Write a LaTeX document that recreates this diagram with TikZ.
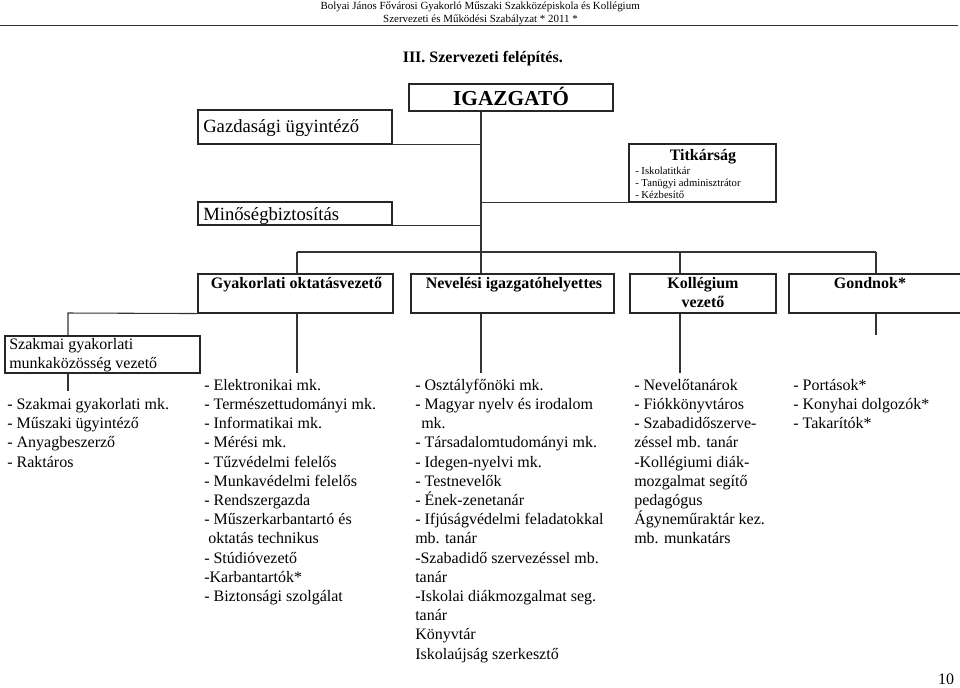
\documentclass[tikz,border=0pt]{standalone}
\usepackage{fontspec}
\setmainfont{Liberation Serif}
\begin{document}
\begin{tikzpicture}[x=0.75pt,y=-0.75pt,
  box/.style={draw=black!85, line width=0.8pt, inner sep=0pt, rectangle},
  conn/.style={draw=black!80, line width=0.8pt},
  hdr/.style={inner sep=0pt, font=\fontsize{8.2}{9.8}\selectfont},
  big/.style={inner sep=0pt, font=\fontsize{14}{16.8}\selectfont},
  bt/.style={inner sep=0pt, font=\fontsize{12}{14.4}\selectfont\bfseries},
  lst/.style={anchor=north west, inner sep=0pt, align=left, font=\fontsize{12}{14.4}\selectfont}]
\useasboundingbox (0,0) rectangle (960,687);

% header
\node[hdr, anchor=base east] (h1) at (640,9) {Bolyai János Fővárosi Gyakorló Műszaki Szakközépiskola és Kollégium};
\node[hdr, anchor=base east] (h2) at (578,22) {Szervezeti és Működési Szabályzat * 2011 *};
\coordinate (rl) at (0,25);
\coordinate (rr) at (958,25);
\draw[line width=0.7pt, black!80] (rl) -- (rr);

\node[bt, anchor=base east] (title) at (563,62) {III. Szervezeti felépítés.};

% boxes
\node[box, minimum width=204*0.75pt, minimum height=27*0.75pt] (igaz) at (511,97.5) {};
\node[box, minimum width=194*0.75pt, minimum height=34*0.75pt] (gazd) at (295,127) {};
\node[box, minimum width=194*0.75pt, minimum height=23*0.75pt] (minos) at (295,213.5) {};
\node[box, minimum width=147*0.75pt, minimum height=58*0.75pt] (tit) at (702.5,173) {};
\node[box, minimum width=195*0.75pt, minimum height=39*0.75pt] (gyak) at (295.5,293.5) {};
\node[box, minimum width=203*0.75pt, minimum height=39*0.75pt] (nev) at (512.5,293.5) {};
\node[box, minimum width=146*0.75pt, minimum height=39*0.75pt] (koll) at (703,293.5) {};
\node[box, minimum width=174*0.75pt, minimum height=39*0.75pt] (gond) at (876,293.5) {};
\node[box, minimum width=195*0.75pt, minimum height=37*0.75pt] (szak) at (102.5,354.5) {};

% box texts
\node[anchor=base, inner sep=0pt, font=\fontsize{16}{19}\selectfont\bfseries] (igazt) at (511,105) {IGAZGATÓ};
\node[big, anchor=base west] (gazdt) at (203,132) {Gazdasági ügyintéző};
\node[big, anchor=base west] (minost) at (203,220.5) {Minőségbiztosítás};
\node[bt, anchor=base] (titt) at (703,160) {Titkárság};
\node[anchor=north west, inner sep=0pt, align=left, font=\fontsize{8}{9}\selectfont] (titl) at (635,166.1)
  {\strut - Iskolatitkár\\- Tanügyi adminisztrátor\\- Kézbesítő};
\node[bt, anchor=base] (gyakt) at (296.5,288.5) {Gyakorlati oktatásvezető};
\node[bt, anchor=base] (nevt) at (514,288.5) {Nevelési igazgatóhelyettes};
\node[bt, anchor=base] (kollt) at (703,288.5) {Kollégium};
\node[bt, anchor=base] (kollt2) at (703,307.7) {vezető};
\node[bt, anchor=base] (gondt) at (870,288.5) {Gondnok*};
\node[lst] (szakt) at (9,335.56) {\strut Szakmai gyakorlati\\munkaközösség vezető};

% connectors
\coordinate (spine) at (481,252);
\coordinate (gyakx) at (297,252);
\coordinate (kollx) at (680,252);
\coordinate (gondx) at (876,252);
\coordinate (low) at (0,373);
\coordinate (szx) at (68,313);
\coordinate (szend) at (68,391);
\coordinate (gondlow) at (0,335);
\draw[conn] (spine |- igaz.south) -- (spine);
\draw[conn] (gazd.south east) -- (gazd.south east -| spine);
\draw[conn] (minos.south east) -- (minos.south east -| spine);
\draw[conn] (tit.south west) -- (tit.south west -| spine);
\draw[conn] (gyakx) -- (gondx);
\draw[conn] (gyakx) -- (gyakx |- gyak.north);
\draw[conn] (spine) -- (spine |- nev.north);
\draw[conn] (kollx) -- (kollx |- koll.north);
\draw[conn] (gondx) -- (gondx |- gond.north);
\draw[conn] (gyakx |- gyak.south) -- (gyakx |- low);
\draw[conn] (gyak.south west) -- (szx) -- (szx |- szak.north);
\draw[conn] (szx |- szak.south) -- (szend);
\draw[conn] (spine |- nev.south) -- (spine |- low);
\draw[conn] (kollx |- koll.south) -- (kollx |- low);
\draw[conn] (gondx |- gond.south) -- (gondx |- gondlow);

% lists
\node[lst] (col1) at (7,395.76) {\strut - Szakmai gyakorlati mk.\\- Műszaki ügyintéző\\- Anyagbeszerző\\- Raktáros};
\node[lst] (col2) at (204,376.56) {\strut - Elektronikai mk.\\- Természettudományi mk.\\- Informatikai mk.\\- Mérési mk.\\- Tűzvédelmi felelős\\- Munkavédelmi felelős\\- Rendszergazda\\- Műszerkarbantartó és\\\hspace*{3pt}oktatás technikus\\- Stúdióvezető\\-Karbantartók*\\- Biztonsági szolgálat};
\node[lst] (col3) at (415,376.56) {\strut - Osztályfőnöki mk.\\- Magyar nyelv és irodalom\\\hspace*{4.5pt}mk.\\- Társadalomtudományi mk.\\- Idegen-nyelvi mk.\\- Testnevelők\\- Ének-zenetanár\\- Ifjúságvédelmi feladatokkal\\mb. tanár\\-Szabadidő szervezéssel mb.\\tanár\\-Iskolai diákmozgalmat seg.\\tanár\\Könyvtár\\Iskolaújság szerkesztő};
\node[lst] (col4) at (634,376.56) {\strut - Nevelőtanárok\\- Fiókkönyvtáros\\- Szabadidőszerve-\\zéssel mb. tanár\\-Kollégiumi diák-\\mozgalmat segítő\\pedagógus\\Ágyneműraktár kez.\\mb. munkatárs};
\node[lst] (col5) at (793,376.56) {\strut - Portások*\\- Konyhai dolgozók*\\- Takarítók*};

\node[anchor=base, inner sep=0pt, font=\fontsize{12}{14.4}\selectfont] (pg) at (946,684) {10};
\end{tikzpicture}
\end{document}
